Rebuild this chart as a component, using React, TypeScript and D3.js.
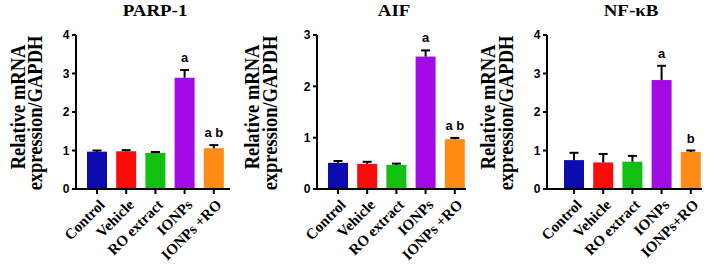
import React from "react";
import * as d3 from "d3";

const categories = ["Control", "Vehicle", "RO extract", "IONPs", "IONPs +RO"];
const categories3 = ["Control", "Vehicle", "RO extract", "IONPs", "IONPs+RO"];
const colors = ["#0b0bb0", "#ff0a0a", "#12c012", "#a20be6", "#ff8a14"];

const parpMean = [0.97, 0.98, 0.94, 2.89, 1.06];
const parpErr = [0.03, 0.03, 0.02, 0.2, 0.08];
const parpSig = ["", "", "", "a", "a b"];

const aifMean = [0.51, 0.49, 0.47, 2.58, 0.97];
const aifErr = [0.035, 0.04, 0.025, 0.12, 0.025];
const aifSig = ["", "", "", "a", "a b"];

const nfkbMean = [0.75, 0.69, 0.71, 2.83, 0.96];
const nfkbErr = [0.19, 0.22, 0.15, 0.37, 0.04];
const nfkbSig = ["", "", "", "a", "b"];

const yTicks4 = [0, 1, 2, 3, 4];
const yTicks3 = [0, 1, 2, 3];

type PanelProps = {
  title: string;
  titleX: number;
  axisX: number;
  firstBar: number;
  axisEnd: number;
  yMax: number;
  ticks: number[];
  cats: string[];
  mean: number[];
  err: number[];
  sig: string[];
  labelX1: number;
  labelX2: number;
};

function Panel(p: PanelProps) {
  const y = d3.scaleLinear().domain([0, p.yMax]).range([189, 35]);
  const step = 29.2;
  const barW = 20;
  const x = (i: number) => p.firstBar + i * step;
  const serif = "'Liberation Serif', 'Times New Roman', serif";
  const sans = "'Liberation Sans', Arial, sans-serif";
  return (
    <g>
      <g transform={`translate(${p.titleX},15.5) scale(1.08,1)`}>
        <text textAnchor="middle" fontFamily={serif} fontWeight="bold" fontSize={17.5}>
          {p.title}
        </text>
      </g>
      <g transform={`translate(${p.labelX1},107) scale(1.12,1) rotate(-90)`}>
        <text textAnchor="middle" fontFamily={serif} fontWeight="bold" fontSize={18.5}>
          Relative mRNA
        </text>
      </g>
      <g transform={`translate(${p.labelX2},113) scale(1.12,1) rotate(-90)`}>
        <text textAnchor="middle" fontFamily={serif} fontWeight="bold" fontSize={18.5}>
          expression/GAPDH
        </text>
      </g>
      {p.mean.map((m, i) => (
        <rect key={"b" + i} x={x(i)} y={y(m)} width={barW} height={y(0) - y(m)} fill={colors[i]} />
      ))}
      {p.mean.map((m, i) => {
        const cx = x(i) + barW / 2;
        const top = y(m + p.err[i]);
        return (
          <g key={"e" + i} stroke="#000" strokeWidth={2}>
            <line x1={cx} x2={cx} y1={y(m)} y2={top} />
            <line x1={cx - 4.5} x2={cx + 4.5} y1={top} y2={top} />
          </g>
        );
      })}
      {p.sig.map((s, i) =>
        s ? (
          <text
            key={"s" + i}
            x={x(i) + barW / 2}
            y={y(p.mean[i] + p.err[i]) - 8}
            textAnchor="middle"
            fontFamily={sans}
            fontWeight="bold"
            fontSize={13}
          >
            {s}
          </text>
        ) : null
      )}
      <line x1={p.axisX} x2={p.axisX} y1={y(p.yMax)} y2={y(0) + 1} stroke="#000" strokeWidth={2} />
      <line x1={p.axisX - 1} x2={p.axisEnd} y1={y(0)} y2={y(0)} stroke="#000" strokeWidth={2} />
      {p.ticks.map((t) => (
        <g key={"t" + t}>
          <line x1={p.axisX - 4} x2={p.axisX} y1={y(t)} y2={y(t)} stroke="#000" strokeWidth={2} />
          <text x={p.axisX - 6.5} y={y(t)} dy="0.36em" textAnchor="end" fontFamily={sans} fontWeight="bold" fontSize={12}>
            {t}
          </text>
        </g>
      ))}
      {p.cats.map((c, i) => {
        const cx = x(i) + barW / 2;
        return (
          <g key={"c" + i}>
            <line x1={cx} x2={cx} y1={y(0)} y2={y(0) + 5} stroke="#000" strokeWidth={2} />
            <g transform={`translate(${cx + 5},${y(0) + 13}) rotate(-45)`}>
              <text textAnchor="end" dy="0.35em" fontFamily={serif} fontWeight="bold" fontSize={15}>
                {c}
              </text>
            </g>
          </g>
        );
      })}
    </g>
  );
}

export default function App() {
  return (
    <svg width={712} height={265} style={{ position: "absolute", left: 0, top: 0, background: "#fff" }}>
      <rect width={712} height={265} fill="#fff" />
      <Panel title="PARP-1" titleX={155} axisX={76} firstBar={87} axisEnd={230} yMax={4} ticks={yTicks4}
        cats={categories} mean={parpMean} err={parpErr} sig={parpSig} labelX1={25} labelX2={42} />
      <Panel title="AIF" titleX={394} axisX={317} firstBar={328} axisEnd={466} yMax={3} ticks={yTicks3}
        cats={categories} mean={aifMean} err={aifErr} sig={aifSig} labelX1={259} labelX2={277} />
      <Panel title="NF-κB" titleX={631} axisX={547} firstBar={564} axisEnd={702} yMax={4} ticks={yTicks4}
        cats={categories3} mean={nfkbMean} err={nfkbErr} sig={nfkbSig} labelX1={495} labelX2={513} />
    </svg>
  );
}
